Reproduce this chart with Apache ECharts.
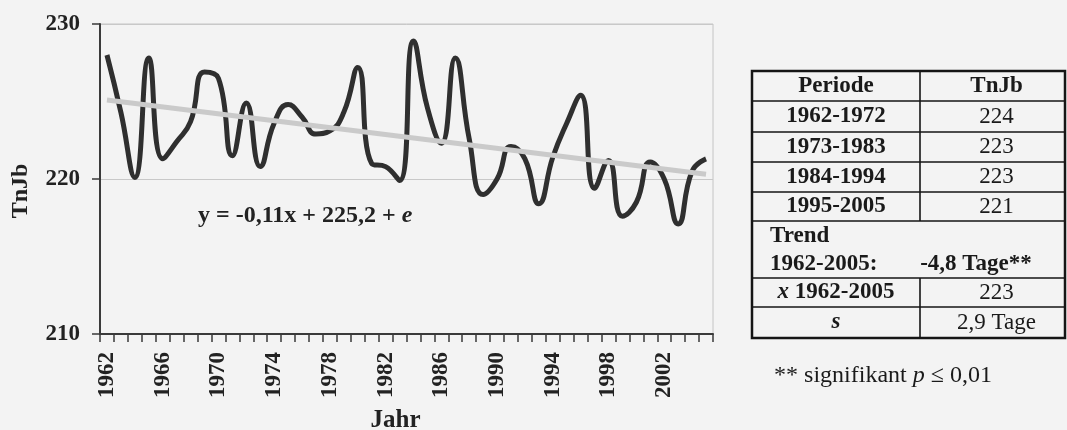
<!DOCTYPE html>
<html>
<head>
<meta charset="utf-8">
<script src="https://cdn.jsdelivr.net/npm/echarts@6/dist/echarts.min.js"></script>
<style>
html,body{margin:0;padding:0;background:#f3f3f3;}
#c{width:1067px;height:430px;}
</style>
</head>
<body>
<div id="c"></div>
<script>
// ---- data ----
var years = [];
for (var yy = 1962; yy <= 2005; yy++) years.push(String(yy));
var tnjb = [228.0, 224.3, 220.1, 227.8, 221.3, 222.4, 223.7, 226.9, 226.5, 221.5,
            224.9, 220.8, 223.6, 224.8, 224.0, 222.9, 223.1, 224.3, 227.2, 221.0,
            220.8, 219.9, 228.9, 224.6, 222.3, 227.8, 222.6, 219.0, 220.0, 222.1,
            221.3, 218.4, 221.4, 223.6, 225.4, 219.4, 221.2, 217.6, 218.5, 221.1,
            220.0, 217.1, 220.5, 221.3];
var trendPoints = [['1962', 225.1], ['2005', 220.3]];
var yTicks = [210, 220, 230];
var equationText = 'y = -0,11x + 225,2 + ';
var equationItalic = 'e';
var tableHeader = ['Periode', 'TnJb'];
var periods = ['1962-1972', '1973-1983', '1984-1994', '1995-2005'];
var periodMeans = ['224', '223', '223', '221'];
var trendLabel = 'Trend';
var trendPeriod = '1962-2005:';
var trendValue = '-4,8 Tage**';
var meanSymbol = 'x';
var meanPeriod = ' 1962-2005';
var meanValue = '223';
var sdSymbol = 's';
var sdValue = '2,9 Tage';
var footnoteParts = ['** signifikant ', 'p', ' \u2264 0,01'];

// ---- table layout ----
var SERIF = '"Liberation Serif", "DejaVu Serif", serif';
var TF = '23px ';
var tL = 752, tR = 1065, tDiv = 920, tTop = 71;
var rowH = [30, 31, 30, 30, 29, 57, 29, 31];
var bounds = [tTop];
rowH.forEach(function (h) { bounds.push(bounds[bounds.length - 1] + h); });
var tBottom = bounds[bounds.length - 1];
var g = [];
g.push({type: 'rect', shape: {x: tL, y: tTop, width: tR - tL, height: tBottom - tTop},
        style: {fill: 'none', stroke: '#151515', lineWidth: 2.5}, z: 10});
for (var i = 1; i < bounds.length - 1; i++) {
  g.push({type: 'line', shape: {x1: tL, y1: bounds[i], x2: tR, y2: bounds[i]},
          style: {stroke: '#151515', lineWidth: 1.6}, z: 10});
}
[0, 1, 2, 3, 4, 6, 7].forEach(function (r) {
  g.push({type: 'line', shape: {x1: tDiv, y1: bounds[r], x2: tDiv, y2: bounds[r + 1]},
          style: {stroke: '#151515', lineWidth: 1.6}, z: 10});
});
function cellText(txt, x, y, bold, align, rich) {
  var o = {type: 'text', x: x, y: y, z: 11,
    style: {text: txt, fill: '#1a1a1a', font: (bold ? 'bold ' : '') + TF + SERIF,
            align: align || 'center', verticalAlign: 'middle'}};
  if (rich) o.style.rich = rich;
  return o;
}
var cL = (tL + tDiv) / 2, cR = (tDiv + tR) / 2 + 4;
function mid(r) { return (bounds[r] + bounds[r + 1]) / 2; }
g.push(cellText(tableHeader[0], cL, mid(0), true));
g.push(cellText(tableHeader[1], cR, mid(0), true));
periods.forEach(function (p, k) {
  g.push(cellText(p, cL, mid(k + 1), true));
  g.push(cellText(periodMeans[k], cR, mid(k + 1), false));
});
g.push(cellText(trendLabel, tL + 18, bounds[5] + 15, true, 'left'));
g.push(cellText(trendPeriod, tL + 18, bounds[5] + 43, true, 'left'));
g.push(cellText(trendValue, 976, bounds[5] + 43, true, 'center'));
g.push(cellText('{i|' + meanSymbol + '}{b|' + meanPeriod + '}', cL, mid(6), true, 'center', {
  i: {font: 'italic bold ' + TF + SERIF, fill: '#1a1a1a'},
  b: {font: 'bold ' + TF + SERIF, fill: '#1a1a1a'}}));
g.push(cellText(meanValue, cR, mid(6), false));
g.push(cellText('{i|' + sdSymbol + '}', cL, mid(7), true, 'center', {
  i: {font: 'italic bold ' + TF + SERIF, fill: '#1a1a1a'}}));
g.push(cellText(sdValue, cR, mid(7), false));
g.push({type: 'text', x: 883, y: 376, z: 11, style: {
  text: '{a|' + footnoteParts[0] + '}{p|' + footnoteParts[1] + '}{a|' + footnoteParts[2] + '}',
  align: 'center', verticalAlign: 'middle',
  rich: {a: {font: '24px ' + SERIF, fill: '#1a1a1a'}, p: {font: 'italic 24px ' + SERIF, fill: '#1a1a1a'}}}});
// equation
g.push({type: 'text', x: 198, y: 216, z: 11, style: {
  text: '{b|' + equationText + '}{e|' + equationItalic + '}',
  align: 'left', verticalAlign: 'middle',
  rich: {b: {font: 'bold 24px ' + SERIF, fill: '#222'}, e: {font: 'italic bold 24px ' + SERIF, fill: '#222'}}}});

var chart = echarts.init(document.getElementById('c'), null, {renderer: 'canvas'});
chart.setOption({
  backgroundColor: '#f3f3f3',
  animation: false,
  grid: {left: 100, right: 354, top: 24, bottom: 96, show: true, borderColor: '#c4c4c4', borderWidth: 1,
         backgroundColor: 'transparent', containLabel: false, outerBoundsMode: 'none'},
  xAxis: {
    type: 'category', data: years, boundaryGap: true,
    name: 'Jahr', nameLocation: 'middle', nameGap: 74,
    nameTextStyle: {fontFamily: SERIF, fontWeight: 'bold', fontSize: 25, color: '#222', padding: [0, 22, 0, 0]},
    axisLine: {lineStyle: {color: '#3a3a3a', width: 2}},
    axisTick: {show: true, interval: 0, length: 8, lineStyle: {color: '#3a3a3a', width: 1.5}},
    axisLabel: {interval: 3, rotate: 90, margin: 18, fontFamily: SERIF, fontWeight: 'bold',
                fontSize: 23, color: '#222'},
    splitLine: {show: false}
  },
  yAxis: {
    type: 'value', min: yTicks[0], max: yTicks[yTicks.length - 1], interval: 10,
    name: 'TnJb', nameLocation: 'middle', nameGap: 67,
    nameTextStyle: {fontFamily: SERIF, fontWeight: 'bold', fontSize: 24, color: '#222', padding: [0, 24, 0, 0]},
    axisLine: {show: true, lineStyle: {color: '#3a3a3a', width: 2}},
    axisTick: {show: true, length: 8, lineStyle: {color: '#3a3a3a', width: 1.5}},
    axisLabel: {margin: 20, fontFamily: SERIF, fontWeight: 'bold', fontSize: 23, color: '#222'},
    splitLine: {show: true, lineStyle: {color: '#c8c8c8', width: 1}}
  },
  series: [
    {type: 'line', data: tnjb, smooth: 0.5, symbol: 'none', z: 3,
     lineStyle: {color: '#2f2f2f', width: 5}},
    {type: 'line', data: trendPoints, smooth: false, symbol: 'none', z: 4,
     lineStyle: {color: '#cacaca', width: 5}}
  ],
  graphic: g
});
</script>
</body>
</html>
